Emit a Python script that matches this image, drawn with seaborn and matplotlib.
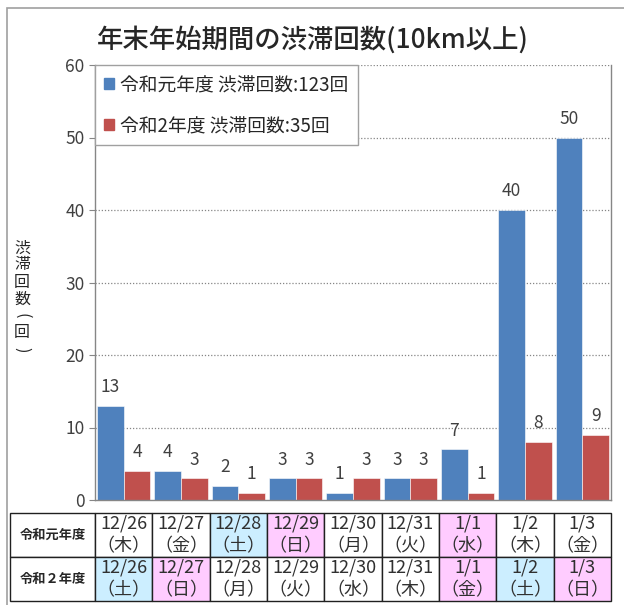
import numpy as np
import pandas as pd
import matplotlib
matplotlib.use('Agg')
import matplotlib.pyplot as plt
import matplotlib.patches as mpatches
import seaborn as sns

# data
days = ['12/26', '12/27', '12/28', '12/29', '12/30', '12/31', '1/1', '1/2', '1/3']
series = ['令和元年度 渋滞回数:123回', '令和2年度 渋滞回数:35回']
r1_counts = [13, 4, 2, 3, 1, 3, 7, 40, 50]
r2_counts = [4, 3, 1, 3, 3, 3, 1, 8, 9]
r1_weekday = ['（木）', '（金）', '（土）', '（日）', '（月）', '（火）', '（水）', '（木）', '（金）']
r2_weekday = ['（土）', '（日）', '（月）', '（火）', '（水）', '（木）', '（金）', '（土）', '（日）']
row_labels = ['令和元年度', '令和２年度']

sns.set_style('white')
plt.rcParams['font.family'] = ['Noto Sans CJK JP', 'DejaVu Sans']

pdf = pd.DataFrame({
    'day': days * 2,
    'count': r1_counts + r2_counts,
    'series': [series[0]] * len(days) + [series[1]] * len(days),
})

blue = '#4F81BD'
red = '#C0504D'
sat = '#CCEEFF'
sun = '#FFCCFF'

fig = plt.figure(figsize=(6.24, 6.05), dpi=100)
ax = fig.add_axes([95/624, 1-500/605, 516/624, 435/605])

sns.barplot(data=pdf, x='day', y='count', hue='series', order=days,
            palette=[blue, red], saturation=1, width=0.93, gap=0,
            edgecolor='white', linewidth=0.4, ax=ax, legend=False)

for c in ax.containers:
    ax.bar_label(c, padding=7, fontsize=12.5, color='#404040')

ax.set_ylim(0, 60)
ax.set_yticks(np.arange(0, 61, 10))
ax.tick_params(axis='y', labelsize=12.5, labelcolor='#404040', length=4,
               direction='out', color='#868686', left=True)
ax.set_xticks([])
ax.set_xlabel('')
ax.set_ylabel('')
for y in range(10, 61, 10):
    ax.axhline(y, color='#868686', lw=0.9, ls=(0, (1, 1.5)), zorder=0)
ax.spines['top'].set_visible(False)
for s in ['left', 'right', 'bottom']:
    ax.spines[s].set_color('#868686')
    ax.spines[s].set_linewidth(1.0)

handles = [mpatches.Patch(color=blue, label=series[0]),
           mpatches.Patch(color=red, label=series[1])]
leg = ax.legend(handles=handles, loc='upper left', bbox_to_anchor=(0, 1),
                borderaxespad=0, fontsize=13.5, handlelength=0.5, handleheight=0.5,
                handletextpad=0.35, labelspacing=1.05, borderpad=0.5,
                fancybox=False, framealpha=1, edgecolor='#a0a0a0')
leg.get_frame().set_linewidth(1.0)

fig.text(313/624, 1-40/605, '年末年始期間の渋滞回数(10km以上)', ha='center',
         va='center', fontsize=19, fontweight='medium')

# vertical y label, one character per line (brackets turned sideways)
ylab = ['渋', '滞', '回', '数', '(', '回', ')']
for i, ch in enumerate(ylab):
    rot = -90 if ch in '()' else 0
    fig.text(22/624, 1-(248 + i*17)/605, ch, ha='center', va='center',
             fontsize=11.5, rotation=rot)

# date table under the chart
tax = fig.add_axes([10/624, 4/605, 601/624, 88/605])
tax.axis('off')
cell_text = [[row_labels[0]] + [d + '\n' + w for d, w in zip(days, r1_weekday)],
             [row_labels[1]] + [d + '\n' + w for d, w in zip(days, r2_weekday)]]
colors = []
for wk in [r1_weekday, r2_weekday]:
    row = ['white']
    for i, w in enumerate(wk):
        if w == '（土）':
            row.append(sat)
        elif w == '（日）' or days[i] == '1/1':
            row.append(sun)
        else:
            row.append('white')
    colors.append(row)
col_w = [85/601] + [516/601/9] * 9
tbl = tax.table(cellText=cell_text, cellColours=colors, colWidths=col_w,
                bbox=[0, 0, 1, 1], cellLoc='center')
tbl.auto_set_font_size(False)
for (r, c), cell in tbl.get_celld().items():
    cell.set_edgecolor('#202020')
    cell.set_linewidth(1.0)
    txt = cell.get_text()
    if c == 0:
        txt.set_fontsize(9.5)
        txt.set_fontweight('bold')
    else:
        txt.set_fontsize(13)
        txt.set_linespacing(1.3)
        txt.set_color('#303030')

fig.patches.append(mpatches.Rectangle((7/624, -0.02), 1.1, 1 - 8/605 + 0.02,
                                      transform=fig.transFigure, fill=False,
                                      edgecolor='#a0a0a0', lw=1.2))

fig.savefig('out.png', dpi=100)
